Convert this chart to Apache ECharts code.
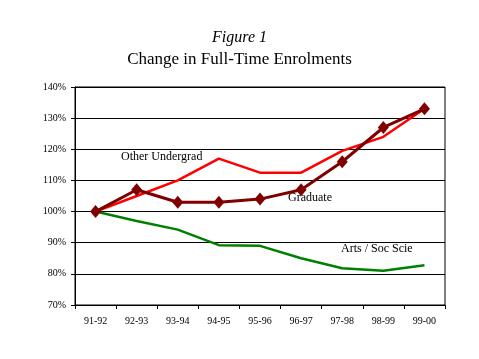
<!DOCTYPE html>
<html><head><meta charset="utf-8">
<script src="https://cdn.jsdelivr.net/npm/echarts@6/dist/echarts.min.js"></script>
<style>html,body{margin:0;padding:0;background:#fff}#c{width:479px;height:359px}</style>
</head><body><div id="c"></div>
<script>
const categories = ["91-92","92-93","93-94","94-95","95-96","96-97","97-98","98-99","99-00"];
const otherUndergrad = [100, 105, 110, 117, 112.5, 112.5, 119.5, 124, 133];
const graduate = [100, 107, 103, 103, 104, 107, 116, 127, 133];
const artsSocScie = [100, 97, 94.2, 89.2, 89, 85, 81.8, 81, 82.8];
const seriesNames = ["Other Undergrad", "Graduate", "Arts / Soc Scie"];
const yTicks = [70, 80, 90, 100, 110, 120, 130, 140];

const chart = echarts.init(document.getElementById('c'), null, {renderer: 'canvas'});
const font = '"Liberation Serif", "Times New Roman", serif';
chart.setOption({
  animation: false,
  backgroundColor: '#fff',
  title: [
    {text: 'Figure 1', left: 'center', top: 25, textStyle: {fontFamily: font, fontStyle: 'italic', fontWeight: 'normal', fontSize: 16, color: '#000'}},
    {text: 'Change in Full-Time Enrolments', left: 'center', top: 46, textStyle: {fontFamily: font, fontWeight: 'normal', fontSize: 17, color: '#000'}}
  ],
  grid: {left: 75, right: 34, top: 87, bottom: 54, show: true, borderColor: '#000', borderWidth: 1},
  xAxis: {
    type: 'category', data: categories, boundaryGap: true,
    axisLine: {lineStyle: {color: '#000', width: 1}},
    axisTick: {show: true, length: 4, lineStyle: {color: '#000'}},
    axisLabel: {fontFamily: font, fontSize: 10, color: '#000', margin: 11}
  },
  yAxis: {
    type: 'value', min: yTicks[0], max: yTicks[yTicks.length-1], interval: 10,
    axisLine: {show: true, lineStyle: {color: '#000'}},
    axisTick: {show: true, length: 4, lineStyle: {color: '#000'}},
    splitLine: {show: true, lineStyle: {color: '#000', width: 1}},
    axisLabel: {fontFamily: font, fontSize: 10, color: '#000', margin: 9, formatter: v => v + '%'}
  },
  series: [
    {name: seriesNames[0], type: 'line', data: otherUndergrad, symbol: 'none', lineStyle: {color: '#ff0000', width: 2.5}, itemStyle: {color: '#ff0000'}, z: 2},
    {name: seriesNames[2], type: 'line', data: artsSocScie, symbol: 'none', lineStyle: {color: '#008000', width: 2.5}, itemStyle: {color: '#008000'}, z: 2},
    {name: seriesNames[1], type: 'line', data: graduate, symbol: 'diamond', symbolSize: [11, 13], showAllSymbol: true, lineStyle: {color: '#800000', width: 3}, itemStyle: {color: '#800000'}, z: 3}
  ],
  graphic: [
    {type: 'text', left: 121, top: 151, style: {text: seriesNames[0], font: '12px ' + font, fill: '#000'}},
    {type: 'text', left: 288, top: 192, style: {text: seriesNames[1], font: '12px ' + font, fill: '#000'}},
    {type: 'text', left: 341, top: 243, style: {text: seriesNames[2], font: '12px ' + font, fill: '#000'}}
  ]
});
</script></body></html>
